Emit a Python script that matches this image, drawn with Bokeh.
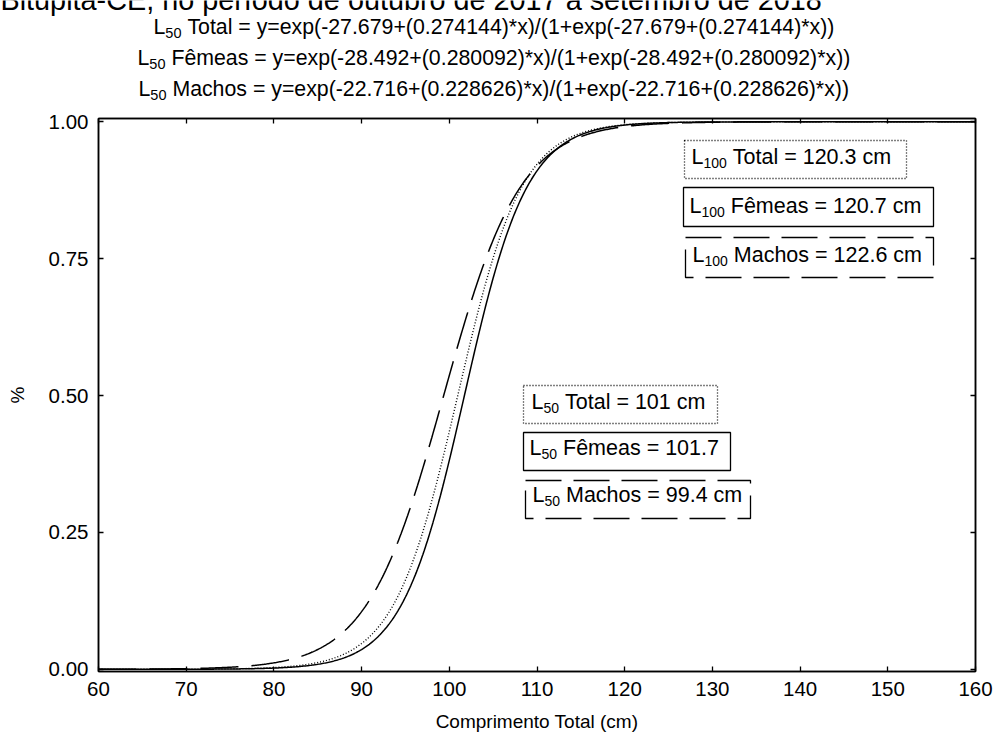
import numpy as np
from bokeh.plotting import figure
from bokeh.models import Label, BoxAnnotation, LinearAxis, FixedTicker, Range1d, PrintfTickFormatter
from bokeh.core.properties import value
from bokeh.embed import file_html
from bokeh.resources import INLINE

# ---------------- data ----------------
header = "Bitupitá-CE, no período de outubro de 2017 a setembro de 2018"
groups = ["Total", "Fêmeas", "Machos"]
intercepts = [-27.679, -28.492, -22.716]
slopes = [0.274144, 0.280092, 0.228626]
l50_labels = ["Total = 101 cm", "Fêmeas = 101.7", "Machos = 99.4 cm"]
l100_labels = ["Total = 120.3 cm", "Fêmeas = 120.7 cm", "Machos = 122.6 cm"]
x_ticks = [60, 70, 80, 90, 100, 110, 120, 130, 140, 150, 160]
y_ticks = [0.0, 0.25, 0.5, 0.75, 1.0]
x_label = "Comprimento Total (cm)"
y_label = "%"

# ---------------- layout / style ----------------
W, H = 995, 745
TOP_H = 110
FL, FR, FT, FB = 98, 975, 118, 671
X_LO, X_HI = 60, 160
Y_LO, Y_HI = -0.004, 1.006
FONT = "Liberation Sans"
BASE_FIX = 0.34   # em: Bokeh's alphabetic baseline sits lower than expected
styles = {
    "Total": dict(line_dash="1 2", line_width=1.4),
    "Fêmeas": dict(line_dash="solid", line_width=1.5),
    "Machos": dict(line_dash="38 13", line_width=1.5),
}
box_dash = {"Total": "1 2", "Fêmeas": "solid", "Machos": "36 12"}


def dx(px):
    return X_LO + (px - FL) * (X_HI - X_LO) / (FR - FL)


def dy(py):
    return Y_HI - (py - FT) * (Y_HI - Y_LO) / (FB - FT)


# ---------------- header figure (title lines) ----------------
tf = figure(width=W, height=TOP_H, output_backend="svg", toolbar_location=None,
            x_range=Range1d(0, W), y_range=Range1d(TOP_H, 0),
            x_axis_type=None, y_axis_type=None,
            min_border=0, min_border_left=0, min_border_right=0,
            min_border_top=0, min_border_bottom=0)
tf.outline_line_color = None
tf.background_fill_color = "white"
tf.border_fill_color = "white"


def ttext(px, py, text, size):
    tf.text(x=[px], y=[py - BASE_FIX * size], text=[text], text_font=value(FONT),
            text_font_size=value(f"{size}px"), text_color="black",
            text_align="left", text_baseline="alphabetic")


def tcomp(px, py, sub, rest, size, subsize, drop=3):
    wl = 0.556 * size
    ws = 0.556 * len(sub) * subsize
    sp = 0.278 * size
    ttext(px, py, "L", size)
    ttext(px + wl, py + drop, sub, subsize)
    ttext(px + wl + ws + sp, py, rest, size)


ttext(0, 9, header, 28.8)
eq_starts = [153, 137, 138]
eq_base = [34, 65, 96]
for g, a, b, sx, sy in zip(groups, intercepts, slopes, eq_starts, eq_base):
    rest = f"{g} = y=exp({a}+({b})*x)/(1+exp({a}+({b})*x))"
    tcomp(sx, sy, "50", rest, 21.3, 14.5)

# ---------------- main figure ----------------
p = figure(width=W, height=H - TOP_H, output_backend="svg", toolbar_location=None,
           x_range=Range1d(X_LO, X_HI), y_range=Range1d(Y_LO, Y_HI),
           min_border_left=FL, min_border_right=W - FR,
           min_border_top=FT - TOP_H, min_border_bottom=H - FB)
p.grid.visible = False
p.outline_line_color = "black"
p.outline_line_width = 1.5
p.background_fill_color = "white"
p.border_fill_color = "white"


def style_axis(ax, labels=True):
    ax.major_tick_in = 5
    ax.major_tick_out = 0
    ax.minor_tick_in = 0
    ax.minor_tick_out = 0
    ax.axis_line_color = "black"
    ax.axis_line_width = 1.5
    ax.major_tick_line_color = "black"
    ax.major_tick_line_width = 1.3
    if labels:
        ax.major_label_text_font = FONT
        ax.major_label_text_font_size = "20.5px"
        ax.major_label_text_color = "black"
        ax.major_label_standoff = 10
        ax.axis_label_text_font = FONT
        ax.axis_label_text_font_size = "19px"
        ax.axis_label_text_font_style = "normal"
        ax.axis_label_text_color = "black"
    else:
        ax.major_label_text_font_size = "0px"
        ax.major_label_text_color = None
        ax.major_label_standoff = 0


xa = p.xaxis[0]
xa.ticker = FixedTicker(ticks=x_ticks)
xa.axis_label = x_label
xa.axis_label_standoff = 12
style_axis(xa)

ya = p.yaxis[0]
ya.ticker = FixedTicker(ticks=y_ticks)
ya.formatter = PrintfTickFormatter(format="%.2f")
ya.axis_label = y_label
ya.axis_label_standoff = 18
style_axis(ya)

top = LinearAxis(ticker=FixedTicker(ticks=x_ticks))
style_axis(top, labels=False)
p.add_layout(top, "above")
right = LinearAxis(ticker=FixedTicker(ticks=y_ticks))
style_axis(right, labels=False)
p.add_layout(right, "right")

# ---------------- curves ----------------
xs = np.linspace(X_LO, X_HI, 801)
for g, a, b in zip(groups, intercepts, slopes):
    z = a + b * xs
    ys = np.exp(z) / (1 + np.exp(z))
    p.line(xs, ys, line_color="black", **styles[g])


# ---------------- boxed labels ----------------
def lab(px, py, text, size):
    p.add_layout(Label(x=dx(px), y=dy(py - BASE_FIX * size), text=text, text_font=FONT,
                       text_font_size=f"{size}px", text_color="black",
                       text_align="left", text_baseline="alphabetic"))


def comp(px, py, sub, rest, size, subsize, drop=3):
    wl = 0.556 * size
    ws = 0.556 * len(sub) * subsize
    sp = 0.278 * size
    lab(px, py, "L", size)
    lab(px + wl, py + drop, sub, subsize)
    lab(px + wl + ws + sp, py, rest, size)


upper_boxes = [(684, 906, 140, 178), (683, 933, 187, 226), (685, 933, 237, 277)]
upper_text = [(691, 164), (689, 213), (692, 262)]
lower_boxes = [(523, 717, 385, 423), (523, 730, 432, 470), (525, 750, 480, 518)]
lower_text = [(531, 409), (529, 455), (532, 502)]

for labels, boxes, texts, sub in ((l100_labels, upper_boxes, upper_text, "100"),
                                  (l50_labels, lower_boxes, lower_text, "50")):
    for g, t, bx, tp in zip(groups, labels, boxes, texts):
        p.add_layout(BoxAnnotation(left=dx(bx[0]), right=dx(bx[1]), top=dy(bx[2]), bottom=dy(bx[3]),
                                   fill_alpha=0, line_color="black", line_alpha=1.0, line_width=1.3,
                                   line_dash=box_dash[g]))
        comp(tp[0], tp[1], sub, t, 21.5, 14)

open("out.html", "w").write(file_html([tf, p], INLINE))
